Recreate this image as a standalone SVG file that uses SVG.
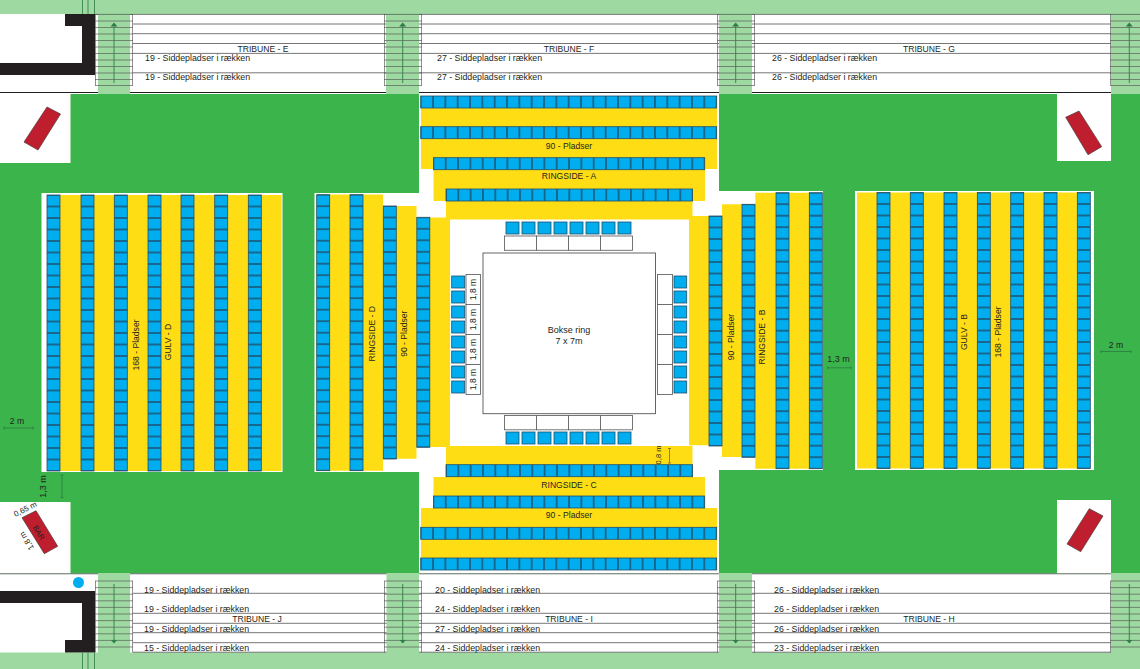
<svg xmlns="http://www.w3.org/2000/svg" width="1140" height="669" viewBox="0 0 1140 669">
<style>
text{font-family:"Liberation Sans",Arial,sans-serif;font-size:8.6px;fill:#231f20}
.c{text-anchor:middle}
.q{font-size:8.8px}
.y{fill:#ffdd15}
.w{fill:#fff}
.g{fill:#3bb44b}
.lg{fill:#9dd9a0}
.b{fill:#231f20}
.r{fill:#be1e2d;stroke:#4a3a3c;stroke-width:.7}
.s{fill:none;stroke:#1f4e6b;stroke-width:.8}
.sq{fill:#00aeef;stroke:#1f4e6b;stroke-width:.8}
.tb{fill:#fff;stroke:#666;stroke-width:.9}
.ln{stroke:#4a4a4a;stroke-width:.75;fill:none}
.st{stroke:#555;stroke-width:.65;fill:none}
.ar{stroke:#2f7d48;stroke-width:.9;fill:none}
.dim{stroke:#2c7a42;stroke-width:.8;fill:none}
</style>
<defs>
<pattern id="vc" patternUnits="userSpaceOnUse" width="13" height="11.5"><rect width="13" height="11.5" fill="#00aeef"/><path d="M0 0H13M0 11.5H13" stroke="#1f4e6b" stroke-width="1.4"/></pattern>
<pattern id="hc" patternUnits="userSpaceOnUse" width="12.33" height="12"><rect width="12.33" height="12" fill="#00aeef"/><path d="M0 0V12M12.33 0V12" stroke="#1f4e6b" stroke-width="1.4"/></pattern>
<g id="col24"><rect width="13" height="276" fill="url(#vc)"/><rect class="s" width="13" height="276"/></g>
<g id="col22"><rect width="13" height="253" fill="url(#vc)"/><rect class="s" width="13" height="253"/></g>
<g id="col20"><rect width="13" height="230" fill="url(#vc)"/><rect class="s" width="13" height="230"/></g>
<g id="row24"><rect width="296" height="12" fill="url(#hc)"/><rect class="s" width="296" height="12"/></g>
<g id="row22"><rect width="271.3" height="12" fill="url(#hc)"/><rect class="s" width="271.3" height="12"/></g>
<g id="row20"><rect width="246.6" height="12" fill="url(#hc)"/><rect class="s" width="246.6" height="12"/></g>
<g id="steptop"><path class="st" d="M0 .5H38M0 7H38M0 13.5H38M0 20H38M0 26.5H38M0 33H38M0 39.5H38M0 46H38M0 52.5H38M0 59H38M0 65.5H38M0 71.5H38M.5 0V71.5M37.5 0V71.5"/></g>
<g id="stepbot"><path class="st" d="M0 0H38M0 6.6H38M0 13.2H38M0 19.8H38M0 26.4H38M0 33H38M0 39.6H38M0 46.2H38M0 52.8H38M0 59.4H38M0 66H38M.5 0V71.5M37.5 0V71.5"/></g>
<marker id="tip" markerWidth="5" markerHeight="8" refX="0.5" refY="4" orient="auto" markerUnits="userSpaceOnUse"><path d="M0 .5L4 4L0 7.500Z" fill="#2f7d48"/></marker>
</defs>

<rect width="1140" height="669" class="w"/>
<rect y="0" width="1140" height="14" class="lg"/>
<rect y="652.5" width="1140" height="16.5" class="lg"/>

<g id="hall-floor">
<rect y="94" width="1140" height="479.5" class="g"/>
<rect x="419" y="94" width="300" height="479.5" class="w"/>
<rect x="314.5" y="193" width="105" height="279" class="w"/>
<rect x="718.5" y="191" width="104.5" height="279" class="w"/>
<rect x="41.5" y="193" width="241" height="279" class="w"/>
<rect x="855" y="191" width="239" height="279" class="w"/>
<rect x="0" y="94" width="70.5" height="69" class="w"/>
<rect x="1057" y="94" width="54" height="67" class="w"/>
<rect x="0" y="502" width="70.5" height="71.5" class="w"/>
<rect x="1057" y="500" width="54" height="73.5" class="w"/>
</g>

<g id="building">
<path class="b" d="M65 14H95V75H0V63H82V26H65Z"/>
<path class="b" d="M0 591H95V652.5H65V640H82V603H0Z"/>
<path d="M82.5 0V14M88 0V14M94.500 0V14M82.500 652.500V669M88 652.500V669M94.500 652.500V669" stroke="#2c7a42" stroke-width=".8" fill="none"/>
</g>

<g id="tribune-lines">
<path class="ln" d="M95 14.400H1140M133 24H1140M133 33.700H1140M133 43.500H1140M133 53.400H1140M133 72.800H1140"/>
<path d="M0 92.500H1140" stroke="#231f20" stroke-width="1" fill="none"/>
<path class="ln" d="M0 573.800H1140M133 593.300H1140M133 613.300H1140M133 623.300H1140M133 632.700H1140M133 642.700H1140M133 652.200H1140"/>
</g>

<g id="stair-stripes">
<rect x="98" y="14" width="32" height="80" class="lg"/>
<rect x="386" y="14" width="33" height="80" class="lg"/>
<rect x="719" y="14" width="33" height="80" class="lg"/>
<rect x="1111" y="14" width="29" height="80" class="lg"/>
<rect x="98" y="573" width="32" height="80" class="lg"/>
<rect x="386.500" y="573" width="32.500" height="80" class="lg"/>
<rect x="719" y="573" width="33" height="80" class="lg"/>
<rect x="1111" y="573" width="29" height="80" class="lg"/>
</g>

<g id="connectors">
<use href="#steptop" x="95" y="14"/>
<use href="#steptop" x="384" y="14"/>
<use href="#steptop" x="717" y="14"/>
<use href="#steptop" x="1110" y="14"/>
<use href="#stepbot" x="95" y="581"/>
<use href="#stepbot" x="384" y="581"/>
<use href="#stepbot" x="717" y="581"/>
<use href="#stepbot" x="1110" y="581"/>
<path class="ar" d="M114 83V26" marker-end="url(#tip)"/>
<path class="ar" d="M402.700 83V26" marker-end="url(#tip)"/>
<path class="ar" d="M735.700 83V26" marker-end="url(#tip)"/>
<path class="ar" d="M1129.300 83V26" marker-end="url(#tip)"/>
<path class="ar" d="M114 584V640" marker-end="url(#tip)"/>
<path class="ar" d="M402.700 584V640" marker-end="url(#tip)"/>
<path class="ar" d="M735.700 584V640" marker-end="url(#tip)"/>
<path class="ar" d="M1129.300 584V640" marker-end="url(#tip)"/>
</g>

<g id="bars">
<polygon class="r" points="47,107 60.500,114 38,150 24,142"/>
<polygon class="r" points="1079,111 1101.700,146.700 1088,154.700 1065.700,117.300"/>
<polygon class="r" points="1089.300,508.700 1103,516 1080.700,551.700 1067,544"/>
<polygon class="r" points="22,517.700 36,510.700 57.700,546.300 44.300,553.700"/>
<text class="c" transform="translate(36.500,534) rotate(58)" style="font-size:7.500px">BAR</text>
<circle cx="78.500" cy="582.500" r="5.500" fill="#00aeef"/>
</g>

<g id="gulv-d">
<rect x="47" y="195" width="234.700" height="276" class="y"/>
<use href="#col24" x="47" y="195"/>
<use href="#col24" x="81" y="195"/>
<use href="#col24" x="114.300" y="195"/>
<use href="#col24" x="148" y="195"/>
<use href="#col24" x="181" y="195"/>
<use href="#col24" x="214.700" y="195"/>
<use href="#col24" x="248.300" y="195"/>
<text class="c" transform="translate(138.500,345) rotate(-90)">168 - Pladser</text>
<text class="c" transform="translate(171,342) rotate(-90)">GULV - D</text>
</g>

<g id="gulv-b">
<rect x="857" y="192.500" width="233" height="276" class="y"/>
<use href="#col24" x="877" y="192.500"/>
<use href="#col24" x="910.300" y="192.500"/>
<use href="#col24" x="944" y="192.500"/>
<use href="#col24" x="977.300" y="192.500"/>
<use href="#col24" x="1010.700" y="192.500"/>
<use href="#col24" x="1044" y="192.500"/>
<use href="#col24" x="1077.300" y="192.500"/>
<text class="c" transform="translate(967,332) rotate(-90)">GULV - B</text>
<text class="c" transform="translate(1001,332) rotate(-90)">168 - Pladser</text>
</g>

<g id="ringside-d">
<path class="y" d="M316.700 194.500H383V206H416.500V217.500H450V447H416.500V458.700H383V470.700H316.700Z"/>
<use href="#col24" x="316.700" y="194.700"/>
<use href="#col24" x="350" y="194.700"/>
<use href="#col22" x="383.300" y="206"/>
<use href="#col20" x="416.800" y="217.300"/>
<text class="c" transform="translate(374.500,333.700) rotate(-90)">RINGSIDE - D</text>
<text class="c" transform="translate(406.500,333.700) rotate(-90)">90 - Pladser</text>
</g>

<g id="ringside-b">
<path class="y" d="M689 216H722V204.300H755.300V192.700H822V468.700H755.300V457H722V445.300H689Z"/>
<use href="#col20" x="709" y="216"/>
<use href="#col22" x="742" y="204.300"/>
<use href="#col24" x="776" y="192.700"/>
<use href="#col24" x="809.300" y="192.700"/>
<text class="c" transform="translate(733.500,337) rotate(-90)">90 - Pladser</text>
<text class="c" transform="translate(765,337) rotate(-90)">RINGSIDE - B</text>
</g>

<g id="ringside-a">
<path class="y" d="M421 96H717V169H705V201H692.500V219.500H446V201H433.500V169H421Z"/>
<use href="#row24" x="420.700" y="96"/>
<use href="#row24" x="420.700" y="126.700"/>
<use href="#row22" x="433.400" y="157.700"/>
<use href="#row20" x="446" y="189"/>
<text class="c" x="569" y="149.300">90 - Pladser</text>
<text class="c" x="569" y="179">RINGSIDE - A</text>
</g>

<g id="ringside-c">
<path class="y" d="M446 446H692.500V477H705V508H717V570H421V508H433.500V477H446Z"/>
<use href="#row20" x="446" y="464.700"/>
<use href="#row22" x="433.400" y="496"/>
<use href="#row24" x="420.700" y="527.300"/>
<use href="#row24" x="420.700" y="558"/>
<text class="c" x="569" y="488">RINGSIDE - C</text>
<text class="c" x="569" y="517.500">90 - Pladser</text>
</g>

<g id="bokse-ring">
<rect x="483" y="253" width="172.500" height="160.700" fill="#fff" stroke="#555" stroke-width=".9"/>
<text class="c" x="569" y="332.500" style="font-size:9px">Bokse ring</text>
<text class="c" x="569" y="343.500" style="font-size:9px">7 x 7m</text>
</g>

<g id="seats-top">
<rect class="sq" x="506" y="222" width="13" height="12"/><rect class="sq" x="522" y="222" width="13" height="12"/><rect class="sq" x="538" y="222" width="13" height="12"/><rect class="sq" x="554" y="222" width="13" height="12"/><rect class="sq" x="570" y="222" width="13" height="12"/><rect class="sq" x="586" y="222" width="13" height="12"/><rect class="sq" x="602" y="222" width="13" height="12"/><rect class="sq" x="618" y="222" width="13" height="12"/>
<rect class="tb" x="504.500" y="236" width="32" height="14.300"/><rect class="tb" x="536.500" y="236" width="32" height="14.300"/><rect class="tb" x="568.500" y="236" width="32" height="14.300"/><rect class="tb" x="600.500" y="236" width="32" height="14.300"/>
</g>

<g id="seats-bottom">
<rect class="tb" x="504.500" y="415.500" width="32" height="14.300"/><rect class="tb" x="536.500" y="415.500" width="32" height="14.300"/><rect class="tb" x="568.500" y="415.500" width="32" height="14.300"/><rect class="tb" x="600.500" y="415.500" width="32" height="14.300"/>
<rect class="sq" x="506" y="432" width="13" height="12"/><rect class="sq" x="522" y="432" width="13" height="12"/><rect class="sq" x="538" y="432" width="13" height="12"/><rect class="sq" x="554" y="432" width="13" height="12"/><rect class="sq" x="570" y="432" width="13" height="12"/><rect class="sq" x="586" y="432" width="13" height="12"/><rect class="sq" x="602" y="432" width="13" height="12"/><rect class="sq" x="618" y="432" width="13" height="12"/>
</g>

<g id="seats-left">
<rect class="sq" x="451.700" y="276" width="13" height="12"/><rect class="sq" x="451.700" y="291" width="13" height="12"/><rect class="sq" x="451.700" y="306" width="13" height="12"/><rect class="sq" x="451.700" y="321" width="13" height="12"/><rect class="sq" x="451.700" y="336" width="13" height="12"/><rect class="sq" x="451.700" y="351" width="13" height="12"/><rect class="sq" x="451.700" y="366" width="13" height="12"/><rect class="sq" x="451.700" y="381" width="13" height="12"/>
<rect class="tb" x="466" y="274.500" width="14.500" height="30"/><rect class="tb" x="466" y="304.500" width="14.500" height="30"/><rect class="tb" x="466" y="334.500" width="14.500" height="30"/><rect class="tb" x="466" y="364.500" width="14.500" height="30"/>
<text class="c" transform="translate(476,289.500) rotate(-90)">1,8 m</text>
<text class="c" transform="translate(476,319.500) rotate(-90)">1,8 m</text>
<text class="c" transform="translate(476,349.500) rotate(-90)">1,8 m</text>
<text class="c" transform="translate(476,379.500) rotate(-90)">1,8 m</text>
</g>

<g id="seats-right">
<rect class="tb" x="657.500" y="274.500" width="15" height="30"/><rect class="tb" x="657.500" y="304.500" width="15" height="30"/><rect class="tb" x="657.500" y="334.500" width="15" height="30"/><rect class="tb" x="657.500" y="364.500" width="15" height="30"/>
<rect class="sq" x="674" y="276" width="12.700" height="12"/><rect class="sq" x="674" y="291" width="12.700" height="12"/><rect class="sq" x="674" y="306" width="12.700" height="12"/><rect class="sq" x="674" y="321" width="12.700" height="12"/><rect class="sq" x="674" y="336" width="12.700" height="12"/><rect class="sq" x="674" y="351" width="12.700" height="12"/><rect class="sq" x="674" y="366" width="12.700" height="12"/><rect class="sq" x="674" y="381" width="12.700" height="12"/>
</g>

<g id="tribune-e">
<text class="c" x="263" y="52">TRIBUNE - E</text>
<text class="q" x="145" y="61">19 - Siddepladser i rækken</text>
<text class="q" x="145" y="80">19 - Siddepladser i rækken</text>
</g>
<g id="tribune-f">
<text class="c" x="569" y="52">TRIBUNE - F</text>
<text class="q" x="437" y="61">27 - Siddepladser i rækken</text>
<text class="q" x="437" y="80">27 - Siddepladser i rækken</text>
</g>
<g id="tribune-g">
<text class="c" x="929" y="52">TRIBUNE - G</text>
<text class="q" x="772" y="61">26 - Siddepladser i rækken</text>
<text class="q" x="772" y="80">26 - Siddepladser i rækken</text>
</g>
<g id="tribune-j">
<text class="c" x="257" y="621.500">TRIBUNE - J</text>
<text class="q" x="144" y="592.500">19 - Siddepladser i rækken</text>
<text class="q" x="144" y="612">19 - Siddepladser i rækken</text>
<text class="q" x="144" y="631.500">19 - Siddepladser i rækken</text>
<text class="q" x="144" y="651">15 - Siddepladser i rækken</text>
</g>
<g id="tribune-i">
<text class="c" x="569" y="621.500">TRIBUNE - I</text>
<text class="q" x="435" y="592.500">20 - Siddepladser i rækken</text>
<text class="q" x="435" y="612">24 - Siddepladser i rækken</text>
<text class="q" x="435" y="631.500">27 - Siddepladser i rækken</text>
<text class="q" x="435" y="651">24 - Siddepladser i rækken</text>
</g>
<g id="tribune-h">
<text class="c" x="929" y="621.500">TRIBUNE - H</text>
<text class="q" x="774" y="592.500">26 - Siddepladser i rækken</text>
<text class="q" x="774" y="612">26 - Siddepladser i rækken</text>
<text class="q" x="774" y="631.500">26 - Siddepladser i rækken</text>
<text class="q" x="774" y="651">23 - Siddepladser i rækken</text>
</g>

<g id="dimensions">
<text class="c" x="17" y="424">2 m</text>
<path class="dim" d="M4 428H33M4 426.500V429.500M33 426.500V429.500"/>
<text class="c" x="1116" y="348">2 m</text>
<path class="dim" d="M1101 351.500H1131M1101 350V353M1131 350V353"/>
<text class="c" x="838.500" y="361.500" style="font-size:9px">1,3 m</text>
<path class="dim" d="M827.500 367.800H851M827.500 366.300V369.300M851 366.300V369.300"/>
<text class="c" transform="translate(46,486.500) rotate(-90)" style="font-size:9px">1,3 m</text>
<path class="dim" d="M62 475V497.500M60.500 475H63.500M60.500 497.500H63.500"/>
<text class="c" transform="translate(26.500,511.500) rotate(-27)" style="font-size:8px">0,65 m</text>
<text class="c" transform="translate(29,539.500) rotate(238)" style="font-size:8px">1,8 m</text>
<text class="c" transform="translate(660.500,455) rotate(-90)" style="font-size:7.500px">0,8 m</text>
<path d="M669.500 448.500V463M668 448.500H671M668 463H671" stroke="#7a6a2a" stroke-width=".8" fill="none"/>
</g>
</svg>
